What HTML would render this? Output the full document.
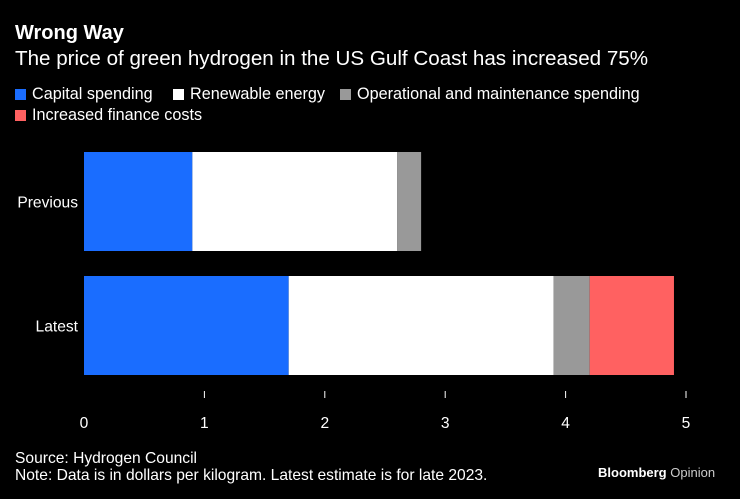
<!DOCTYPE html>
<html><head><meta charset="utf-8"><style>
body{margin:0;background:#000;width:740px;height:499px;overflow:hidden;font-family:"Liberation Sans",sans-serif;color:#fff;position:relative}
.t{position:absolute;white-space:nowrap}
</style></head><body>
<div class="t" style="left:15px;top:22px;font-size:20px;font-weight:bold">Wrong Way</div>
<div class="t" style="left:15px;top:47px;font-size:20.6px">The price of green hydrogen in the US Gulf Coast has increased 75%</div>
<div id="legend"></div>
<svg id="chart" width="740" height="499" style="position:absolute;left:0;top:0"></svg>
<div class="t" style="left:15px;top:450px;font-size:15.6px">Source: Hydrogen Council</div>
<div class="t" style="left:15px;top:467px;font-size:15.6px">Note: Data is in dollars per kilogram. Latest estimate is for late 2023.</div>
<div class="t" style="left:598px;top:465px;font-size:13px;font-weight:bold">Bloomberg <span style="color:#ccc;font-weight:normal">Opinion</span></div>
<script>
const categories=["Previous","Latest"];
const seriesNames=["Capital spending","Renewable energy","Operational and maintenance spending","Increased finance costs"];
const capital=[0.9,1.7];
const renewable=[1.7,2.2];
const om=[0.2,0.3];
const finance=[0,0.7];
const ticks=[0,1,2,3,4,5];
const colors=["#1a6dff","#ffffff","#999999","#ff6161"];
const series=[capital,renewable,om,finance];
const NS="http://www.w3.org/2000/svg";
const svg=document.getElementById('chart');
const x=v=>84+v*120.4;
const yTop=[152,276],bh=99;
function mk(t,a){const e=document.createElementNS(NS,t);for(const k in a)e.setAttribute(k,a[k]);svg.appendChild(e);return e;}
categories.forEach((c,i)=>{
  let acc=0;
  series.forEach((s,j)=>{
    if(s[i]>0){
      const r=mk('rect',{x:x(acc),y:yTop[i],width:x(acc+s[i])-x(acc),height:bh,fill:colors[j]});
      
      
    }
    acc+=s[i];
  });
  const l=mk('text',{x:78,y:yTop[i]+bh/2+6,'text-anchor':'end',fill:'#fff','font-size':15.6,'font-family':'Liberation Sans'});
  l.textContent=c;
  
  
});
ticks.forEach(t=>{
  if(t>0){const tk=mk('line',{x1:x(t),x2:x(t),y1:391,y2:398,stroke:'#fff','stroke-width':1});
  
  }
  const l=mk('text',{x:x(t),y:428,'text-anchor':'middle',fill:'#fff','font-size':15.6,'font-family':'Liberation Sans'});
  l.textContent=t;
  
  
});
const leg=document.getElementById('legend');
const pos=[[15,85],[173,85],[340,85],[15,106]];
seriesNames.forEach((n,i)=>{
  const d=document.createElement('div');
  d.className='t';
  
  
  d.style.cssText=`left:${pos[i][0]}px;top:${pos[i][1]}px;font-size:16.2px`;
  d.innerHTML=`<span style="display:inline-block;width:11px;height:11px;background:${colors[i]};margin-right:6px;vertical-align:-1px"></span>${n}`;
  leg.appendChild(d);
});
</script>
</body></html>
